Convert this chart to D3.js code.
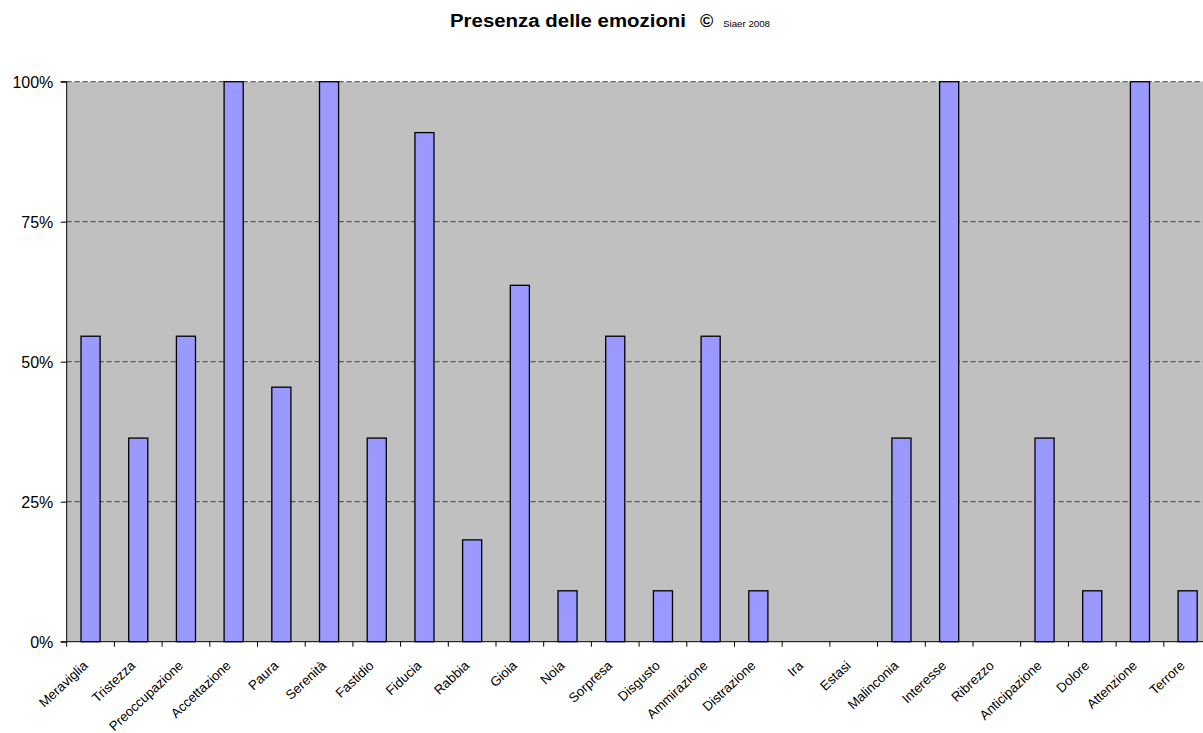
<!DOCTYPE html>
<html><head><meta charset="utf-8">
<script src="https://cdn.jsdelivr.net/npm/d3@7"></script>
<style>body{margin:0;background:#fff}svg{display:block}text{font-family:"Liberation Sans",Arial,sans-serif}</style>
</head><body>
<svg id="c" width="1203" height="733"></svg>
<script>
const categories = ["Meraviglia","Tristezza","Preoccupazione","Accettazione","Paura","Serenità","Fastidio","Fiducia","Rabbia","Gioia","Noia","Sorpresa","Disgusto","Ammirazione","Distrazione","Ira","Estasi","Malinconia","Interesse","Ribrezzo","Anticipazione","Dolore","Attenzione","Terrore"];
const values = [0.5455,0.3636,0.5455,1.0,0.4545,1.0,0.3636,0.9091,0.1818,0.6364,0.0909,0.5455,0.0909,0.5455,0.0909,0,0,0.3636,1.0,0,0.3636,0.0909,1.0,0.0909];
const yTicks = [0,0.25,0.5,0.75,1.0];
const titleMain = "Presenza delle emozioni";
const titleCopy = "©";
const titleSmall = "Siaer 2008";

(function(){
const svg = d3.select("#c");
const pL = 66.7, pT = 81.7, pB = 641.7;
const step = 47.7;
const pR = pL + step * categories.length;
const x = d3.scaleBand().domain(categories).range([pL, pR]).paddingInner(0.6).paddingOuter(0.3);
const y = d3.scaleLinear().domain([0,1]).range([pB, pT]);

svg.append("rect").attr("x", pL).attr("y", pT).attr("width", pR-pL).attr("height", pB-pT).attr("fill", "#c0c0c0");

svg.append("g").selectAll("line").data(yTicks.filter(d=>d>0)).join("line")
  .attr("x1", pL).attr("x2", pR).attr("y1", d=>y(d)).attr("y2", d=>y(d))
  .attr("stroke", "#404040").attr("stroke-width", 1).attr("stroke-dasharray", "5,3");

svg.append("g").selectAll("rect").data(categories.map((c,i)=>({c,v:values[i]})).filter(d=>d.v>0)).join("rect")
  .attr("x", d=>x(d.c)).attr("width", x.bandwidth())
  .attr("y", d=>y(d.v)).attr("height", d=>y(0)-y(d.v))
  .attr("fill", "#9999ff").attr("stroke", "#000").attr("stroke-width", 1.3);

const yAxis = d3.axisLeft(y).tickValues(yTicks).tickFormat(d3.format(".0%")).tickSize(6).tickPadding(7.4);
const gy = svg.append("g").attr("transform", `translate(${pL},0)`).call(yAxis);
gy.select(".domain").attr("stroke", "#000").attr("d", `M-6,${pT}H0V${pB}H-6`);
gy.selectAll(".tick line").attr("stroke", "#000");
gy.selectAll(".tick text").attr("font-size", 16).attr("fill", "#000").attr("font-family", "Liberation Sans, Arial, sans-serif").attr("dy", "0.36em");

const ticksX = d3.range(categories.length + 1).map(i => pL + i*step);
const gx = svg.append("g");
gx.append("line").attr("x1", pL).attr("x2", pR).attr("y1", pB).attr("y2", pB).attr("stroke", "#000");
gx.selectAll("line.t").data(ticksX).join("line").attr("class","t")
  .attr("x1", d=>d).attr("x2", d=>d).attr("y1", pB).attr("y2", pB+5).attr("stroke", "#000");
gx.selectAll("text").data(categories).join("text")
  .attr("transform", d=>`translate(${x(d)+x.bandwidth()/2-2},${pB+25}) rotate(-43)`)
  .attr("text-anchor", "end").attr("font-size", 13.3).attr("fill", "#000").text(d=>d);

svg.append("text").attr("x", 450).attr("y", 27).attr("fill", "#000")
  .attr("font-size", 18).attr("font-weight", "bold")
  .attr("textLength", 236).attr("lengthAdjust", "spacingAndGlyphs").text(titleMain);
svg.append("text").attr("x", 700).attr("y", 27).attr("fill", "#000")
  .attr("font-size", 18).attr("font-weight", "bold").text(titleCopy);
svg.append("text").attr("x", 723).attr("y", 27).attr("fill", "#000")
  .attr("font-size", 9.5).attr("textLength", 47).attr("lengthAdjust", "spacingAndGlyphs").text(titleSmall);
})();
</script>
</body></html>
